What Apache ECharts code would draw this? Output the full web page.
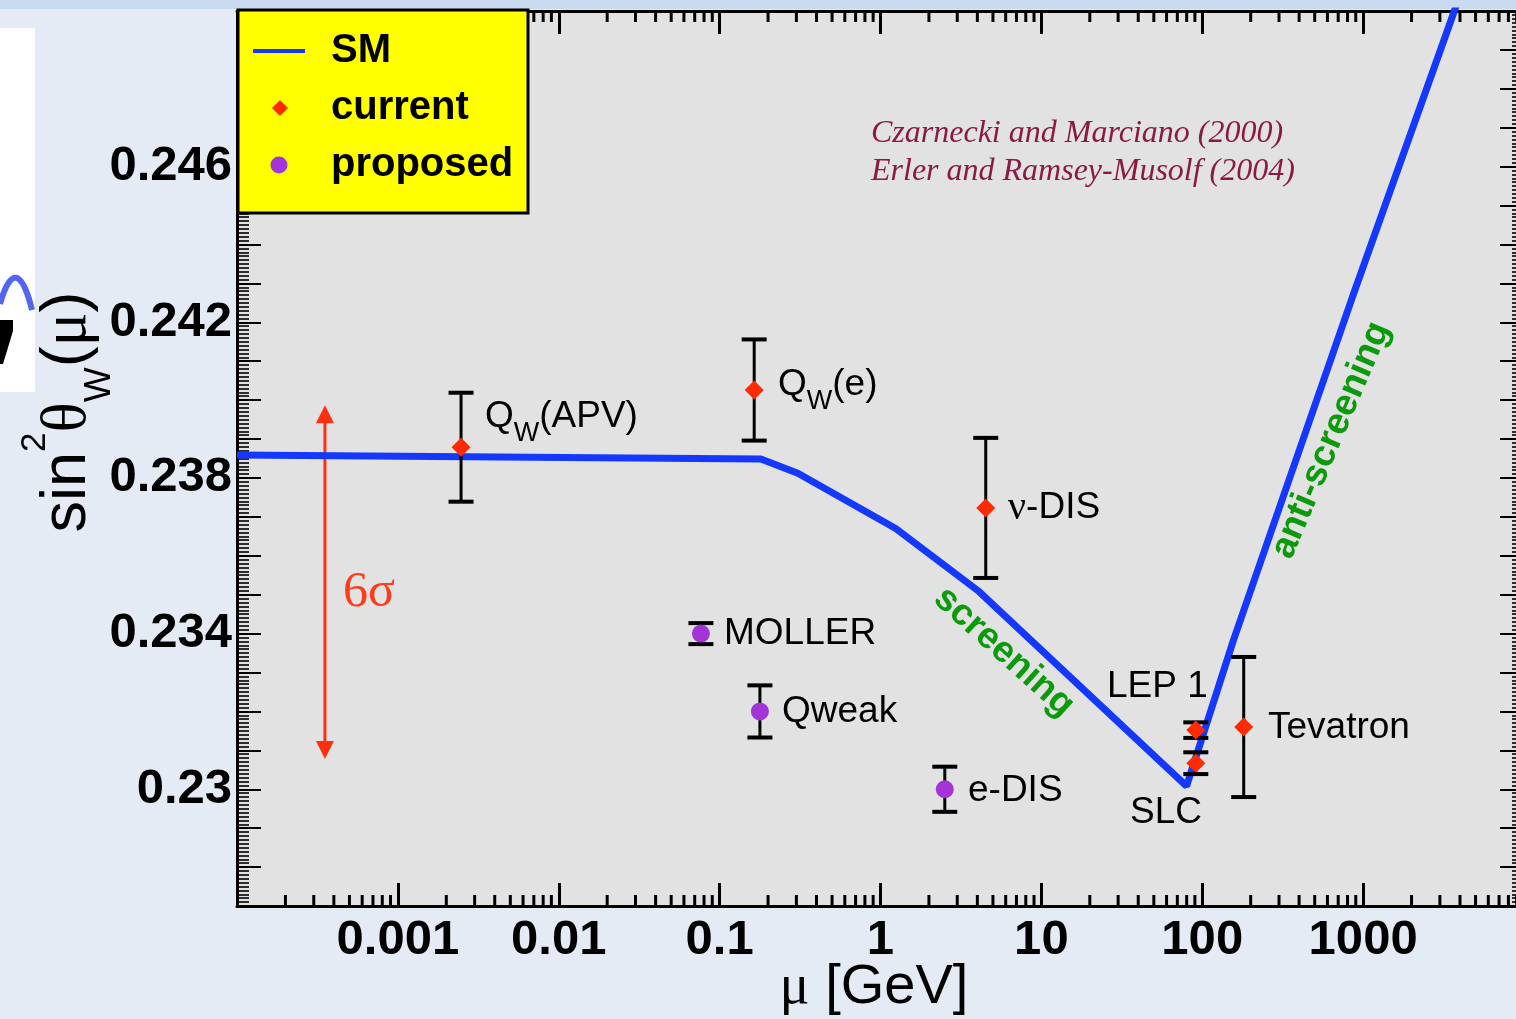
<!DOCTYPE html>
<html><head><meta charset="utf-8">
<script src="https://cdn.jsdelivr.net/npm/echarts@6/dist/echarts.min.js"></script>
<style>html,body{margin:0;padding:0;background:#e4ebf5;} #c{width:1516px;height:1019px;}</style>
</head><body><div id="c"></div>
<script>
// ---- tick labels ----
const xTickLabels = ['0.001', '0.01', '0.1', '1', '10', '100', '1000'];
const yTickLabels = ['0.23', '0.234', '0.238', '0.242', '0.246'];

// ---- Standard Model running sin^2(theta_W) ----
const smMu   = [0.0001, 0.1805, 0.3064, 1.243, 4.098, 79.9, 156.5, 854.6, 3638, 4000];
const smS2w  = [0.23859, 0.23849, 0.23812, 0.23670, 0.23508, 0.23008, 0.23384, 0.24263, 0.24993, 0.25041];

// ---- current measurements ----
const curNames = ['Q_W(APV)', 'Q_W(e)', 'nu-DIS', 'LEP 1', 'SLC', 'Tevatron'];
const curMu    = [0.00247, 0.164, 4.51, 91.19, 91.19, 181];
const curVal   = [0.23879, 0.24026, 0.23723, 0.23152, 0.23067, 0.23160];
const curErr   = [0.0014, 0.0013, 0.0018, 0.0002, 0.00028, 0.0018];

// ---- proposed measurements ----
const propNames = ['MOLLER', 'Qweak', 'e-DIS'];
const propMu    = [0.0765, 0.178, 2.51];
const propVal   = [0.2340, 0.2320, 0.2300];
const propErr   = [0.00027, 0.00067, 0.00058];

// ---- 6 sigma arrow ----
const arrowMu = [0.000352];
const arrowRange = [0.23078, 0.23987];

const X_MIN = 1e-4, X_MAX = 1e4, Y_MIN = 0.227, Y_MAX = 0.250;

const RED = '#ff2a00', PURPLE = '#a335d8', BLUE = '#1538ff', GREEN = '#0a9a0a';
const SANS = '"Liberation Sans", Arial, sans-serif';
const SERIF = '"Liberation Serif", "Times New Roman", serif';

// minor tick positions for the log axis (2..9 per decade)
const xMinor = [];
for (let d = -4; d < 4; d++) for (let m = 2; m <= 9; m++) xMinor.push([m * Math.pow(10, d), Y_MIN]);

const chart = echarts.init(document.getElementById('c'));

const axisFont = {fontSize: 49, fontWeight: 'bold', color: '#000', fontFamily: SANS};

function xFmt(v) {
  const s = xTickLabels.find(t => Math.abs(Math.log10(Number(t)) - Math.log10(v)) < 1e-6);
  return s || '';
}
function yFmt(v) {
  const s = yTickLabels.find(t => Math.abs(Number(t) - v) < 1e-7);
  return s || '';
}

function errBarItem(params, api) {
  const x = api.value(0), y = api.value(1), e = api.value(2);
  const t = api.coord([x, y + e]), b = api.coord([x, y - e]);
  const h = 12.5;
  return {type: 'group', children: [
    {type: 'line', shape: {x1: t[0], y1: t[1], x2: b[0], y2: b[1]}, style: {stroke: '#000', lineWidth: 3}},
    {type: 'line', shape: {x1: t[0] - h, y1: t[1], x2: t[0] + h, y2: t[1]}, style: {stroke: '#000', lineWidth: 4}},
    {type: 'line', shape: {x1: b[0] - h, y1: b[1], x2: b[0] + h, y2: b[1]}, style: {stroke: '#000', lineWidth: 4}}
  ]};
}

const errData = [];
curMu.forEach((m, i) => errData.push([m, curVal[i], curErr[i]]));
propMu.forEach((m, i) => errData.push([m, propVal[i], propErr[i]]));

function label(x, y, text, rich) {
  return {type: 'text', x: x, y: y, z: 50, silent: true,
    style: {text: text, rich: rich, align: 'left', verticalAlign: 'middle'}};
}
const R = {
  n: {fontSize: 37, fontFamily: SANS, lineHeight: 60, fill: '#000'},
  s: {fontSize: 27, fontFamily: SANS, lineHeight: 22, verticalAlign: 'bottom', fill: '#000'},
  g: {fontSize: 40, fontFamily: SERIF, lineHeight: 60, fill: '#000'}
};

const option = {
  backgroundColor: '#e4ebf5',
  animation: false,
  grid: {left: 237, top: 11, width: 1287, height: 895, show: true, backgroundColor: '#e2e2e2',
         borderWidth: 0, containLabel: false, outerBoundsMode: 'none'},
  xAxis: [
    {type: 'log', logBase: 10, min: X_MIN, max: X_MAX, splitNumber: 8, position: 'bottom',
     axisLine: {show: true, onZero: false, lineStyle: {color: '#000', width: 3}},
     axisTick: {show: true, inside: true, length: 23, lineStyle: {color: '#000', width: 3}},
     axisLabel: Object.assign({margin: 10, formatter: xFmt, showMinLabel: true, showMaxLabel: true}, axisFont),
     splitLine: {show: false}},
    {type: 'log', logBase: 10, min: X_MIN, max: X_MAX, splitNumber: 8, position: 'top',
     axisLine: {show: true, onZero: false, lineStyle: {color: '#000', width: 3}},
     axisTick: {show: true, inside: true, length: 23, lineStyle: {color: '#000', width: 3}},
     axisLabel: {show: false}, splitLine: {show: false}}
  ],
  yAxis: [
    {type: 'value', min: Y_MIN, max: Y_MAX, interval: 0.001, position: 'left',
     axisLine: {show: true, onZero: false, lineStyle: {color: '#000', width: 3}},
     axisTick: {show: true, inside: true, length: 24, lineStyle: {color: '#000', width: 2}},
     minorTick: {show: true, splitNumber: 10, length: 12, lineStyle: {color: '#000', width: 1.6}},
     axisLabel: Object.assign({margin: 5, formatter: yFmt, showMinLabel: true, showMaxLabel: true}, axisFont),
     splitLine: {show: false}, minorSplitLine: {show: false}},
    {type: 'value', min: Y_MIN, max: Y_MAX, interval: 0.001, position: 'right',
     axisLine: {show: true, onZero: false, lineStyle: {color: '#000', width: 3}},
     axisTick: {show: true, inside: true, length: 24, lineStyle: {color: '#000', width: 2}},
     minorTick: {show: true, splitNumber: 10, length: 12, lineStyle: {color: '#000', width: 1.6}},
     axisLabel: {show: false}, splitLine: {show: false}, minorSplitLine: {show: false}}
  ],
  series: [
    {type: 'custom', name: 'xminor', silent: true, z: 1, clip: false, data: xMinor,
     renderItem: (params, api) => {
       const v = api.value(0);
       const b = api.coord([v, Y_MIN]), t = api.coord([v, Y_MAX]);
       return {type: 'group', children: [
         {type: 'line', shape: {x1: b[0], y1: b[1], x2: b[0], y2: b[1] - 11}, style: {stroke: '#000', lineWidth: 3}},
         {type: 'line', shape: {x1: t[0], y1: t[1], x2: t[0], y2: t[1] + 11}, style: {stroke: '#000', lineWidth: 3}}
       ]};
     }},
    {type: 'line', name: 'SM', z: 3, showSymbol: false, symbol: 'none', clip: true,
     data: smMu.map((m, i) => [m, smS2w[i]]),
     lineStyle: {color: BLUE, width: 7}},
    {type: 'custom', name: 'arrow', silent: true, z: 3, data: arrowMu.map(m => [m, arrowRange[0], arrowRange[1]]),
     renderItem: (params, api) => {
       const m = api.value(0);
       const lo = api.coord([m, api.value(1)]), hi = api.coord([m, api.value(2)]);
       const L = 18, W = 9;
       return {type: 'group', children: [
         {type: 'line', shape: {x1: hi[0], y1: hi[1] + L - 2, x2: lo[0], y2: lo[1] - L + 2}, style: {stroke: '#ff2f10', lineWidth: 3}},
         {type: 'polygon', shape: {points: [[hi[0], hi[1]], [hi[0] - W, hi[1] + L], [hi[0] + W, hi[1] + L]]}, style: {fill: '#ff2f10'}},
         {type: 'polygon', shape: {points: [[lo[0], lo[1]], [lo[0] - W, lo[1] - L], [lo[0] + W, lo[1] - L]]}, style: {fill: '#ff2f10'}}
       ]};
     }},
    {type: 'custom', name: 'errors', silent: true, z: 4, data: errData, renderItem: errBarItem},
    {type: 'scatter', name: 'current', z: 5, symbol: 'diamond', symbolSize: 19,
     itemStyle: {color: RED, opacity: 1}, data: curMu.map((m, i) => [m, curVal[i]])},
    {type: 'scatter', name: 'proposed', z: 5, symbol: 'circle', symbolSize: 18,
     itemStyle: {color: PURPLE, opacity: 1}, data: propMu.map((m, i) => [m, propVal[i]])}
  ],
  graphic: [
    // slide remnants on the left / top
    {type: 'rect', shape: {x: 0, y: 0, width: 1516, height: 9}, style: {fill: '#c9d9ef'}, z: 0, silent: true},
    {type: 'rect', shape: {x: 0, y: 28, width: 35, height: 364}, style: {fill: '#ffffff'}, z: 0, silent: true},
    {type: 'bezierCurve', shape: {x1: 0, y1: 304, cpx1: 10, cpy1: 268, cpx2: 22, cpy2: 268, x2: 32, y2: 310}, style: {stroke: '#5266f0', lineWidth: 6, fill: null}, z: 1, silent: true},
    {type: 'polygon', shape: {points: [[0, 320], [13, 320], [13, 331], [3, 364], [0, 364]]}, style: {fill: '#000'}, z: 1, silent: true},
    // legend
    {type: 'rect', z: 100, shape: {x: 238, y: 10, width: 290, height: 203}, style: {fill: '#ffff00', stroke: '#000', lineWidth: 3}, silent: true},
    {type: 'line', z: 101, shape: {x1: 253, y1: 51, x2: 305, y2: 51}, style: {stroke: BLUE, lineWidth: 4}, silent: true},
    {type: 'polygon', z: 101, shape: {points: [[280, 100], [288, 108], [280, 116], [272, 108]]}, style: {fill: RED}, silent: true},
    {type: 'circle', z: 101, shape: {cx: 279, cy: 165, r: 8.5}, style: {fill: PURPLE}, silent: true},
    {type: 'text', z: 101, x: 331, y: 51, silent: true, style: {text: 'SM', font: 'bold 40px ' + SANS, fill: '#000', verticalAlign: 'middle'}},
    {type: 'text', z: 101, x: 331, y: 108, silent: true, style: {text: 'current', font: 'bold 40px ' + SANS, fill: '#000', verticalAlign: 'middle'}},
    {type: 'text', z: 101, x: 331, y: 165, silent: true, style: {text: 'proposed', font: 'bold 40px ' + SANS, fill: '#000', verticalAlign: 'middle'}},
    // references
    {type: 'text', z: 50, x: 871, y: 115, silent: true,
     style: {text: 'Czarnecki and Marciano (2000)\nErler and Ramsey-Musolf (2004)', font: 'italic 32px ' + SERIF, fill: '#8a1b40', lineHeight: 38, verticalAlign: 'top'}},
    // screening annotations
    {type: 'text', z: 50, x: 1004, y: 652, rotation: -42 * Math.PI / 180, silent: true,
     style: {text: 'screening', font: 'bold 37px ' + SANS, fill: GREEN, align: 'center', verticalAlign: 'middle'}},
    {type: 'text', z: 50, x: 1331, y: 440, rotation: 67 * Math.PI / 180, silent: true,
     style: {text: 'anti-screening', font: 'bold 37px ' + SANS, fill: GREEN, align: 'center', verticalAlign: 'middle'}},
    {type: 'text', z: 50, x: 343, y: 593, silent: true,
     style: {text: '6σ', font: '50px ' + SERIF, fill: '#ff3b1a', verticalAlign: 'middle'}},
    // point labels
    label(485, 417, '{n|Q}{s|W}{n|(APV)}', R),
    label(778, 385, '{n|Q}{s|W}{n|(e)}', R),
    label(1008, 508, '{g|ν}{n|-DIS}', R),
    label(1107, 687, '{n|LEP 1}', R),
    label(1130, 813, '{n|SLC}', R),
    label(1268, 728, '{n|Tevatron}', R),
    label(724, 634, '{n|MOLLER}', R),
    label(782, 712, '{n|Qweak}', R),
    label(968, 791, '{n|e-DIS}', R),
    // axis titles
    {type: 'text', z: 50, x: 874, y: 988, silent: true,
     style: {text: '{g|μ}{n| [GeV]}', align: 'center', verticalAlign: 'middle',
       rich: {g: {fontSize: 56, fontFamily: SERIF, fill: '#000', lineHeight: 60},
              n: {fontSize: 56, fontFamily: SANS, fill: '#000', lineHeight: 60}}}},
    {type: 'text', z: 50, x: 68, y: 412, rotation: Math.PI / 2, silent: true,
     style: {text: '{n|sin}{p|2}{g|θ}{s|W}{n|(}{g|μ}{n|)}', align: 'center', verticalAlign: 'middle',
       rich: {n: {fontSize: 63, fontFamily: SANS, fill: '#000', lineHeight: 100},
              g: {fontSize: 63, fontFamily: SERIF, fill: '#000', lineHeight: 100},
              p: {fontSize: 35, fontFamily: SANS, fill: '#000', lineHeight: 34, verticalAlign: 'top'},
              s: {fontSize: 37, fontFamily: SANS, fill: '#000', lineHeight: 60, verticalAlign: 'bottom'}}}}
  ]
};
chart.setOption(option);
</script></body></html>
